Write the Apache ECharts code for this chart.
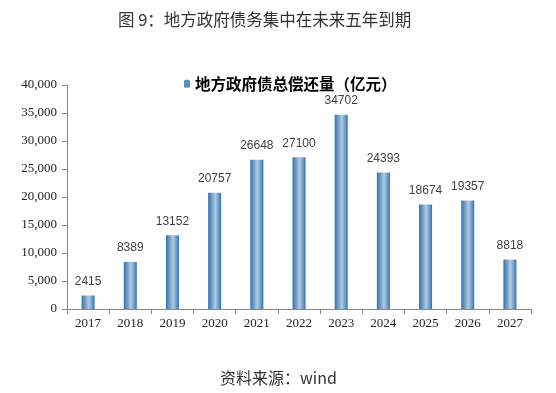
<!DOCTYPE html>
<html><head><meta charset="utf-8">
<script src="https://cdn.jsdelivr.net/npm/echarts@6/dist/echarts.min.js"></script>
<style>html,body{margin:0;padding:0;background:#fff}#c{width:556px;height:393px}</style>
</head><body><div id="c"></div>
<script>
const categories = ['2017','2018','2019','2020','2021','2022','2023','2024','2025','2026','2027'];
const values = [2415, 8389, 13152, 20757, 26648, 27100, 34702, 24393, 18674, 19357, 8818];
const seriesName = '地方政府债总偿还量（亿元）';
const chart = echarts.init(document.getElementById('c'));
const serif = '"Liberation Serif", "Times New Roman", serif';
chart.setOption({
  animation: false,
  title: [{
    text: '图 9：地方政府债务集中在未来五年到期',
    left: 113, top: 6,
    textStyle: {fontFamily: '"Noto Sans CJK SC", sans-serif', fontWeight: 'normal', fontSize: 16.5, color: '#333'}
  }, {
    text: '资料来源：wind',
    left: 215, top: 365,
    textStyle: {fontFamily: '"Noto Sans CJK SC", sans-serif', fontWeight: 'normal', fontSize: 16, color: '#333'}
  }],
  legend: {
    top: 71, left: 179,
    itemWidth: 6, itemHeight: 8, itemGap: 5,
    textStyle: {fontFamily: '"Noto Sans CJK SC", sans-serif', fontWeight: 'bold', fontSize: 15.5, color: '#000'},
    data: [{name: seriesName, itemStyle: {color: '#5b8fc4'}}]
  },
  grid: {left: 67, right: 25, top: 85, bottom: 84, containLabel: false},
  xAxis: {
    type: 'category', data: categories,
    axisLine: {lineStyle: {color: '#888'}},
    axisTick: {show: true, length: 5, lineStyle: {color: '#888'}},
    axisLabel: {fontFamily: serif, fontSize: 13, color: '#222', margin: 8}
  },
  yAxis: {
    type: 'value', min: 0, max: 40000, interval: 5000,
    splitLine: {show: false},
    axisLine: {show: true, lineStyle: {color: '#888'}},
    axisTick: {show: true, length: 5, lineStyle: {color: '#888'}},
    axisLabel: {fontFamily: serif, fontSize: 13, color: '#222', margin: 10,
      formatter: v => v.toLocaleString('en-US')}
  },
  series: [{
    name: seriesName, type: 'bar', data: values, barWidth: 13,
    itemStyle: {
      color: new echarts.graphic.LinearGradient(0, 0, 1, 0, [
        {offset: 0, color: '#3070b0'},
        {offset: 0.55, color: '#b4cadd'},
        {offset: 0.85, color: '#5e95c8'},
        {offset: 1, color: '#2a6fb3'}
      ])
    },
    label: {show: true, position: 'top', distance: 8,
      fontFamily: '"Liberation Sans", Arial, sans-serif', fontSize: 12, color: '#404040'}
  }]
});
</script></body></html>
